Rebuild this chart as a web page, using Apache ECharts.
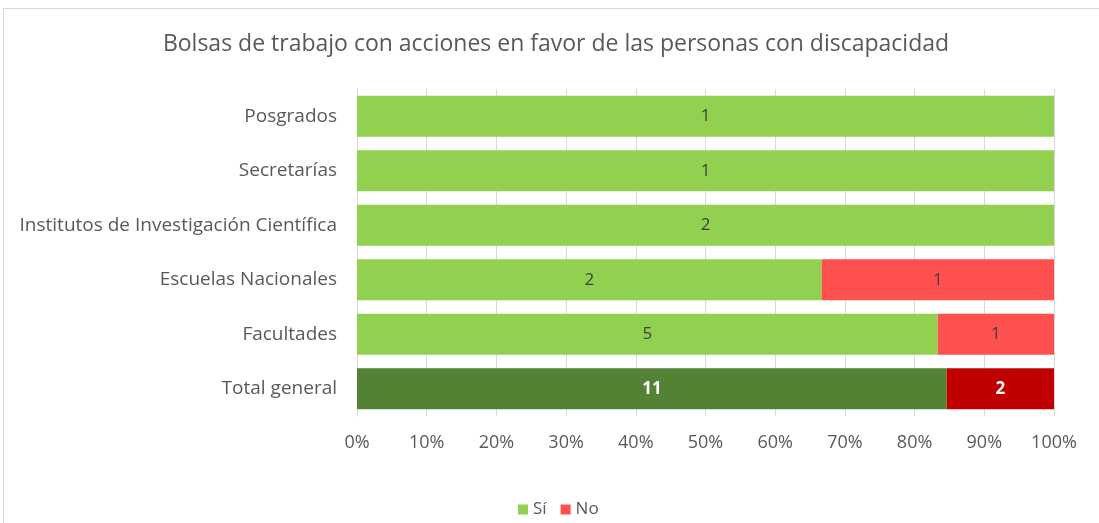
<!DOCTYPE html>
<html><head><meta charset="utf-8">
<script src="https://cdn.jsdelivr.net/npm/echarts@6/dist/echarts.min.js"></script>
<style>
html,body{margin:0;padding:0;background:#fff;}
#frame{position:absolute;left:3px;top:8px;width:1110px;height:530px;border:1px solid #d9d9d9;box-sizing:border-box;}
#c{position:absolute;left:0;top:0;width:1099px;height:523px;}
</style></head>
<body><div id="frame"></div><div id="c"></div>
<script>
const categories = ['Total general','Facultades','Escuelas Nacionales','Institutos de Investigación Científica','Secretarías','Posgrados'];
const siValues = [11,5,2,2,1,1];
const noValues = [2,1,1,0,0,0];
const xTicks = ['0%','10%','20%','30%','40%','50%','60%','70%','80%','90%','100%'];
const seriesNames = ['Sí','No'];

const FONT = '"Open Sans", Lato, sans-serif';
const colSi = '#92d050', colNo = '#ff5050', colSiT = '#548235', colNoT = '#c00000';

function mk(vals, light, dark) {
  return vals.map((v, i) => {
    const tot = siValues[i] + noValues[i];
    const isTotal = categories[i] === 'Total general';
    return {
      value: tot ? v / tot * 100 : 0,
      raw: v,
      itemStyle: { color: isTotal ? dark : light },
      label: {
        show: v > 0,
        color: isTotal ? '#ffffff' : '#404040',
        fontWeight: isTotal ? 'bold' : 'normal'
      }
    };
  });
}

const chart = echarts.init(document.getElementById('c'), null, {renderer: 'canvas'});
chart.setOption({
  animation: false,
  backgroundColor: 'transparent',
  title: {
    text: 'Bolsas de trabajo con acciones en favor de las personas con discapacidad',
    left: 551, top: 28, textAlign: 'center',
    textStyle: { fontFamily: FONT, fontSize: 23, fontWeight: 'normal', color: '#595959' }
  },
  legend: {
    data: seriesNames, left: 513, top: 496,
    icon: 'rect', itemWidth: 10, itemHeight: 10, itemGap: 14,
    textStyle: { fontFamily: FONT, fontSize: 17, color: '#595959' }
  },
  grid: { left: 357, right: 45, top: 89, bottom: 107, containLabel: false },
  xAxis: {
    type: 'value', min: 0, max: 100, interval: 10,
    axisLabel: { formatter: (v) => xTicks[Math.round(v / 10)], fontFamily: FONT, fontSize: 18, color: '#595959', margin: 18 },
    splitLine: { show: true, lineStyle: { color: '#d9d9d9', width: 1 } },
    axisLine: { show: false }, axisTick: { show: false }
  },
  yAxis: {
    type: 'category', data: categories,
    axisLabel: { fontFamily: FONT, fontSize: 19, color: '#595959', margin: 20 },
    axisLine: { show: true, lineStyle: { color: '#d9d9d9' } }, axisTick: { show: false }
  },
  series: [
    { name: seriesNames[0], type: 'bar', stack: 't', barCategoryGap: '25%', color: colSi,
      data: mk(siValues, colSi, colSiT),
      label: { position: 'inside', fontFamily: FONT, fontSize: 17, formatter: p => p.data.raw } },
    { name: seriesNames[1], type: 'bar', stack: 't', barCategoryGap: '25%', color: colNo,
      data: mk(noValues, colNo, colNoT),
      label: { position: 'inside', fontFamily: FONT, fontSize: 17, formatter: p => p.data.raw } }
  ]
});
</script></body></html>
